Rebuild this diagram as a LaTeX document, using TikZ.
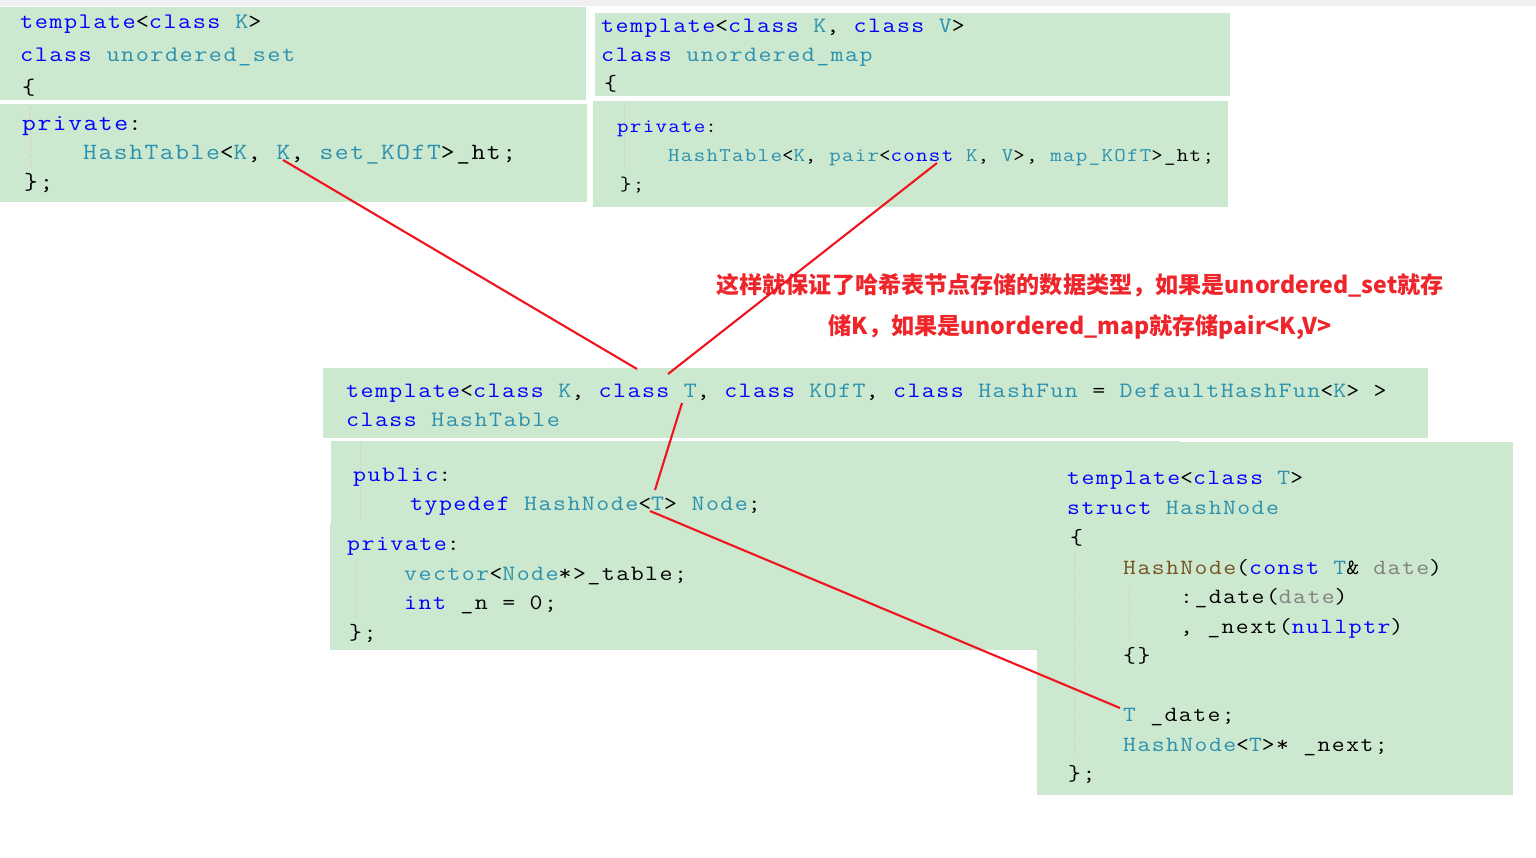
\documentclass[tikz,border=0pt]{standalone}
\usepackage{fontspec}
\setmonofont{Latin Modern Mono}[FakeStretch=1.15,LetterSpace=6.7]
\newfontfamily\cjk{Noto Sans CJK SC}
\definecolor{bg}{RGB}{204,232,207}
\definecolor{topgray}{RGB}{240,240,240}
\definecolor{kw}{RGB}{0,0,255}
\definecolor{ty}{RGB}{43,145,175}
\definecolor{fn}{RGB}{116,83,31}
\definecolor{pm}{RGB}{128,128,128}
\definecolor{redline}{RGB}{240,20,30}
\definecolor{redtext}{RGB}{238,38,44}
\definecolor{guidec}{RGB}{215,205,205}
\newcommand\ckw[1]{\textcolor{kw}{#1}}
\newcommand\cty[1]{\textcolor{ty}{#1}}
\newcommand\cfn[1]{\textcolor{fn}{#1}}
\newcommand\cpm[1]{\textcolor{pm}{#1}}
\tikzset{
  code/.style={anchor=base west, inner sep=0pt, text=black},
  sA/.style={code, font=\ttfamily\fontsize{22.2}{26}\selectfont},
  sAb/.style={code, font=\ttfamily\fontsize{23.3}{27}\selectfont},
  sB/.style={code, font=\ttfamily\fontsize{21.9}{26}\selectfont},
  sBb/.style={code, font=\ttfamily\fontsize{19.4}{23}\selectfont},
  sC/.style={code, font=\ttfamily\fontsize{21.9}{26}\selectfont},
  sD/.style={code, font=\ttfamily\fontsize{21.7}{26}\selectfont},
  guide/.style={draw=guidec, line width=0.8pt, dash pattern=on 4pt off 2pt},
  link/.style={draw=redline, line width=2.1pt},
  note/.style={text=redtext, font=\cjk\bfseries\fontsize{23.1}{28}\selectfont, inner sep=0pt}
}
\begin{document}
\begin{tikzpicture}[x=1pt,y=-1pt]
\useasboundingbox (0,0) rectangle (1536,857);
\fill[white] (0,0) rectangle (1536,857);
\fill[topgray] (0,0) rectangle (1536,6);
% green blocks
\fill[bg] (0,7) rectangle (586,100);
\fill[bg] (0,104) rectangle (587,202);
\fill[bg] (595,13) rectangle (1230,96);
\fill[bg] (593,101) rectangle (1228,207);
\fill[bg] (323,368) rectangle (1428,438);
\fill[bg] (331,441) rectangle (1180,523);
\fill[bg] (330,523) rectangle (1100,650);
\fill[bg] (1037,442) rectangle (1513,795);
% indent guides
\draw[guide] (30,106) -- (30,168);
\draw[guide] (624,103) -- (624,170);
\draw[guide] (360,443) -- (360,520);
\draw[guide] (355,560) -- (355,617);
\draw[guide] (1074,552) -- (1074,757);
\draw[guide] (1129,585) -- (1129,640);
% unordered_set
\node[sA] (a1) at (20,28) {\ckw{template}<\ckw{class} \cty{K}>};
\node[sA] (a2) at (20,61) {\ckw{class} \cty{unordered\_set}};
\node[sA] (a3) at (22,94) {\{};
\node[sAb] (a4) at (22,130) {\ckw{private}:};
\node[sAb] (a5) at (83,159) {\cty{HashTable}<\cty{K}, \cty{K}, \cty{set\_KOfT}>\_ht;};
\node[sAb] (a6) at (24,189) {\};};
% unordered_map
\node[sB] (b1) at (601,32) {\ckw{template}<\ckw{class} \cty{K}, \ckw{class} \cty{V}>};
\node[sB] (b2) at (601,61) {\ckw{class} \cty{unordered\_map}};
\node[sB] (b3) at (604,90) {\{};
\node[sBb] (b4) at (617,132) {\ckw{private}:};
\node[sBb] (b5) at (668,161) {\cty{HashTable}<\cty{K}, \cty{pair}<\ckw{const} \cty{K}, \cty{V}>, \cty{map\_KOfT}>\_ht;};
\node[sBb] (b6) at (620,190) {\};};
% HashTable
\node[sC] (c1) at (346,397) {\ckw{template}<\ckw{class} \cty{K}, \ckw{class} \cty{T}, \ckw{class} \cty{KOfT}, \ckw{class} \cty{HashFun} = \cty{DefaultHashFun}<\cty{K}> >};
\node[sC] (c2) at (346,426) {\ckw{class} \cty{HashTable}};
\node[sC] (c3) at (353,481) {\ckw{public}:};
\node[sC] (c4) at (410,510) {\ckw{typedef} \cty{HashNode}<\cty{T}> \cty{Node};};
\node[sC] (c5) at (347,550) {\ckw{private}:};
\node[sC] (c6) at (404,580) {\cty{vector}<\cty{Node}*>\_table;};
\node[sC] (c7) at (404,609) {\ckw{int} \_n = 0;};
\node[sC] (c8) at (349,639) {\};};
% HashNode
\node[sD] (d1) at (1067,484) {\ckw{template}<\ckw{class} \cty{T}>};
\node[sD] (d2) at (1067,514) {\ckw{struct} \cty{HashNode}};
\node[sD] (d3) at (1070,544) {\{};
\node[sD] (d4) at (1123,574) {\cfn{HashNode}(\ckw{const} \cty{T}\& \cpm{date})};
\node[sD] (d5) at (1180,603) {:\_date(\cpm{date})};
\node[sD] (d6) at (1180,633) {, \_next(\ckw{nullptr})};
\node[sD] (d7) at (1123,662) {\{\}};
\node[sD] (d8) at (1123,721) {\cty{T} \_date;};
\node[sD] (d9) at (1123,751) {\cty{HashNode}<\cty{T}>* \_next;};
\node[sD] (d10) at (1068,780) {\};};
% note
\node[note] (n1) at (1080,285) {这样就保证了哈希表节点存储的数据类型，如果是unordered\_set就存};
\node[note] (n2) at (1080,327) {储K，如果是unordered\_map就存储pair<K,V>};
% link points
\coordinate (pSetK) at (283,160);
\coordinate (pTop1) at (637,369);
\coordinate (pMapConst) at (937,163);
\coordinate (pTop2) at (668,374);
\coordinate (pClassT) at (682,403);
\coordinate (pNodeT) at (655,490);
\coordinate (pNodeT2) at (650,511);
\coordinate (pDateT) at (1120,708);
\draw[link] (pSetK) -- (pTop1);
\draw[link] (pMapConst) -- (pTop2);
\draw[link] (pClassT) -- (pNodeT);
\draw[link] (pNodeT2) -- (pDateT);
\end{tikzpicture}
\end{document}
